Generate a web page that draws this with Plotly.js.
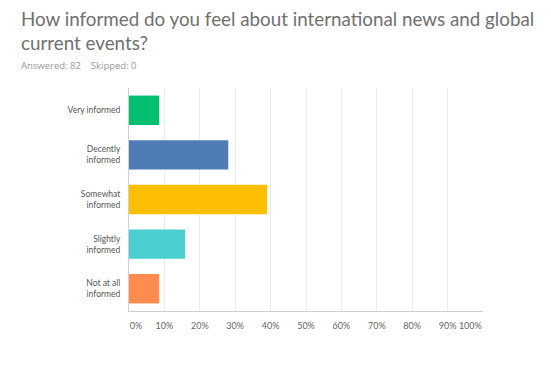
<!DOCTYPE html>
<html>
<head>
<meta charset="utf-8">
<script src="https://cdn.plot.ly/plotly-3.0.1.min.js"></script>
<style>html,body{margin:0;padding:0;background:#fff;}#chart{width:551px;height:368px;}</style>
</head>
<body>
<div id="chart"></div>
<script>
const categories = ["Very informed", "Decently<br>informed", "Somewhat<br>informed", "Slightly<br>informed", "Not at all<br>informed"];
const responses = [7, 23, 32, 13, 7];
const answered = 82;
const skipped = 0;
const percents = responses.map(v => v / answered * 100);
const barColors = ["#00bf6f", "#507cb6", "#fbbe00", "#4ccfd0", "#ff8b4f"];
const xTickVals = [0, 10, 20, 30, 40, 50, 60, 70, 80, 90, 100];
const xTickText = ["0%", "10%", "20%", "30%", "40%", "50%", "60%", "70%", "80%", "90%", "100%"];

const sp = n => "&nbsp;".repeat(n);
// nudge the end labels inward like the reference
const xTickShown = xTickText.map((t, i) => i === 0 ? sp(6) + t : (i === xTickText.length - 1 ? t + sp(11) : t));

const L = 129, R = 68, T = 88, B = 57, W = 551, H = 368;
const pw = W - L - R, ph = H - T - B;
const px = x => (x - L) / pw;
const py = y => (H - B - y) / ph;

const trace = {
  type: "bar",
  orientation: "h",
  x: percents,
  y: categories,
  marker: {color: barColors},
  width: 0.66,
  hoverinfo: "none"
};

const layout = {
  width: W, height: H,
  margin: {l: L, r: R, t: T, b: B, pad: 0},
  paper_bgcolor: "#fff",
  plot_bgcolor: "#fff",
  showlegend: false,
  font: {family: "Lato, sans-serif", color: "#555"},
  xaxis: {
    range: [0, 100],
    tickvals: xTickVals,
    ticktext: xTickShown,
    showgrid: true,
    gridcolor: "#ebebeb",
    gridwidth: 1,
    zeroline: false,
    showline: true,
    linecolor: "#d0d0d0",
    linewidth: 1,
    ticks: "",
    ticklabelstandoff: 6,
    tickfont: {family: "Lato, sans-serif", size: 9, color: "#666"},
    fixedrange: true
  },
  yaxis: {
    autorange: "reversed",
    showgrid: false,
    zeroline: false,
    showline: true,
    linecolor: "#d0d0d0",
    linewidth: 1,
    ticks: "",
    ticklabelstandoff: 6,
    tickfont: {family: "Lato, sans-serif", size: 8.5, color: "#555"},
    fixedrange: true
  },
  annotations: [
    {
      xref: "paper", yref: "paper",
      x: px(19), y: py(5),
      xanchor: "left", yanchor: "top",
      align: "left",
      showarrow: false,
      text: "How informed do you feel about international news and global<br>current events?",
      font: {family: "Lato, sans-serif", size: 18.8, color: "#707070"}
    },
    {
      xref: "paper", yref: "paper",
      x: px(19), y: py(57),
      xanchor: "left", yanchor: "top",
      align: "left",
      showarrow: false,
      text: "Answered: " + answered + sp(4) + "Skipped: " + skipped,
      font: {family: "Open Sans, sans-serif", size: 9.5, color: "#999"}
    }
  ]
};

Plotly.newPlot("chart", [trace], layout, {displayModeBar: false, staticPlot: true});
</script>
</body>
</html>
